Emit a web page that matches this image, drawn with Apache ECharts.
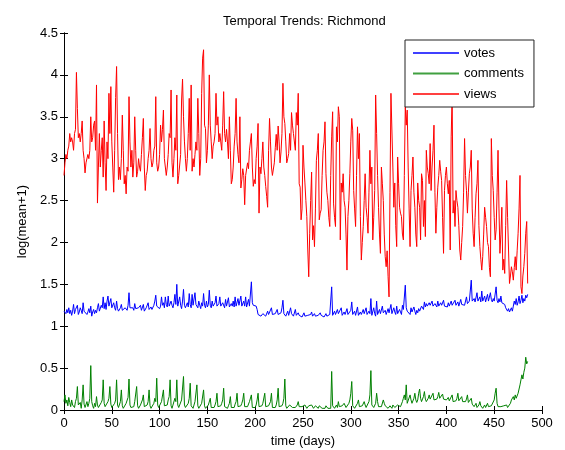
<!DOCTYPE html>
<html>
<head>
<meta charset="utf-8">
<script src="https://cdn.jsdelivr.net/npm/echarts@6/dist/echarts.min.js"></script>
<style>
  html, body { margin: 0; padding: 0; background: #fff; }
  #chart { width: 565px; height: 450px; }
</style>
</head>
<body>
<div id="chart"></div>
<script>
// daily values, day 0 .. 485
const VIEWS = [
  2.80, 2.95, 3.05, 3.00, 3.10, 3.15, 3.30, 3.20, 3.25, 3.20,
  3.10, 3.30, 3.35, 4.03, 3.60, 3.25, 3.30, 3.20, 3.30, 3.45,
  3.10, 3.00, 2.83, 2.95, 2.95, 3.05, 3.00, 3.10, 3.50, 3.20,
  3.25, 3.40, 3.45, 3.10, 3.88, 2.47, 2.90, 3.30, 2.90, 3.10,
  3.25, 2.78, 3.45, 2.95, 2.62, 3.20, 3.00, 3.78, 3.30, 3.86,
  3.20, 2.90, 2.60, 3.10, 3.73, 4.10, 3.30, 2.75, 2.90, 2.75,
  3.00, 3.52, 3.10, 2.70, 2.80, 2.58, 2.90, 2.85, 3.74, 3.20,
  2.90, 3.10, 2.78, 2.95, 3.50, 3.10, 2.78, 2.85, 3.00, 2.90,
  2.85, 3.05, 3.25, 3.48, 2.90, 2.62, 2.80, 2.85, 3.00, 3.10,
  3.36, 3.00, 2.90, 2.95, 3.10, 3.15, 3.74, 2.95, 2.85, 2.90,
  3.05, 3.40, 3.20, 3.35, 3.58, 3.00, 3.00, 2.80, 2.90, 3.05,
  3.30, 3.25, 3.82, 2.95, 2.78, 3.00, 3.25, 3.10, 3.76, 2.70,
  2.80, 2.78, 3.05, 3.70, 3.95, 3.50, 3.20, 3.00, 2.85, 3.00,
  3.30, 3.72, 3.10, 3.88, 2.85, 3.00, 2.90, 3.05, 3.20, 3.10,
  3.72, 3.30, 2.80, 3.00, 3.78, 4.20, 4.30, 3.40, 3.36, 2.95,
  3.10, 3.40, 4.00, 3.40, 3.20, 3.00, 3.15, 3.20, 3.30, 3.78,
  3.40, 3.50, 3.20, 3.30, 3.20, 3.10, 3.40, 3.80, 3.30, 3.20,
  3.35, 3.20, 3.00, 3.50, 3.10, 2.70, 2.75, 2.90, 3.15, 3.30,
  3.72, 3.20, 3.05, 2.95, 3.50, 2.65, 2.75, 2.88, 2.80, 2.45,
  2.80, 2.78, 2.95, 2.88, 3.10, 3.20, 3.30, 2.90, 2.67, 2.75,
  2.70, 3.00, 3.15, 3.42, 2.35, 2.90, 2.82, 3.00, 3.20, 2.90,
  2.80, 2.67, 2.55, 2.42, 3.10, 3.48, 3.20, 2.90, 2.80, 2.78,
  2.95, 3.13, 3.29, 3.10, 3.39, 3.20, 2.95, 3.08, 3.30, 3.90,
  3.50, 3.42, 3.20, 2.95, 3.00, 3.06, 3.30, 3.10, 3.55, 3.40,
  3.30, 3.30, 3.10, 3.55, 3.40, 3.78, 2.70, 2.66, 2.27, 2.40,
  3.16, 2.90, 2.71, 2.50, 2.31, 1.91, 1.59, 2.11, 2.50, 2.84,
  2.03, 2.20, 1.95, 2.40, 2.98, 3.10, 3.30, 2.27, 2.35, 2.39,
  2.80, 3.10, 3.20, 3.44, 2.82, 2.60, 2.50, 2.30, 2.19, 2.80,
  3.26, 3.56, 2.46, 2.30, 2.19, 3.38, 3.20, 3.62, 3.50, 2.03,
  2.71, 2.60, 2.82, 2.50, 2.42, 2.10, 1.67, 2.31, 2.50, 2.82,
  3.20, 3.48, 3.34, 2.62, 2.40, 2.19, 2.80, 3.38, 3.00, 3.30,
  2.31, 1.79, 2.00, 2.19, 2.50, 2.82, 2.42, 2.30, 2.11, 2.60,
  3.10, 2.70, 2.90, 2.03, 2.30, 2.62, 3.76, 3.30, 2.80, 2.42,
  2.10, 1.87, 2.90, 2.70, 2.50, 2.10, 1.83, 1.71, 1.90, 1.59,
  1.35, 2.60, 3.78, 3.80, 2.90, 2.42, 2.71, 2.20, 1.95, 3.02,
  2.70, 2.42, 2.35, 2.31, 2.10, 2.03, 2.80, 3.62, 3.40, 3.58,
  2.90, 2.40, 1.95, 2.62, 2.80, 3.02, 2.60, 2.42, 2.10, 1.95,
  2.71, 2.50, 2.42, 2.03, 2.82, 2.74, 2.19, 2.50, 2.07, 3.10,
  2.90, 2.82, 2.70, 3.18, 2.62, 2.90, 3.10, 3.40, 2.60, 2.11,
  2.42, 2.66, 2.80, 2.98, 2.85, 2.74, 2.30, 1.87, 2.62, 2.80,
  2.90, 2.70, 2.58, 2.74, 1.91, 3.26, 3.75, 2.35, 2.50, 2.19,
  2.62, 2.50, 2.42, 2.20, 1.91, 1.79, 2.00, 2.19, 2.60, 3.24,
  2.80, 2.62, 2.35, 2.60, 2.82, 2.90, 3.10, 2.40, 2.11, 1.95,
  2.30, 2.58, 2.70, 2.98, 2.20, 1.95, 1.80, 1.67, 1.83, 2.10,
  2.42, 2.30, 2.19, 2.00, 1.95, 1.70, 1.59, 3.24, 2.80, 2.62,
  2.30, 2.03, 2.15, 2.60, 3.10, 2.40, 1.87, 2.10, 2.42, 1.67,
  1.80, 1.63, 2.20, 2.74, 2.30, 1.91, 1.51, 1.60, 1.71, 1.65,
  1.55, 1.70, 1.83, 1.67, 1.90, 2.11, 2.40, 2.80, 1.47, 1.39,
  1.60, 1.71, 1.87, 2.11, 2.25, 1.51
]

const VOTES = [
  1.18, 1.17, 1.15, 1.20, 1.16, 1.22, 1.15, 1.19, 1.13, 1.18,
  1.26, 1.15, 1.20, 1.18, 1.25, 1.14, 1.17, 1.22, 1.19, 1.15,
  1.28, 1.18, 1.16, 1.20, 1.14, 1.17, 1.21, 1.16, 1.24, 1.12,
  1.17, 1.20, 1.15, 1.19, 1.16, 1.22, 1.27, 1.18, 1.20, 1.25,
  1.22, 1.35, 1.21, 1.28, 1.20, 1.30, 1.36, 1.24, 1.22, 1.33,
  1.22, 1.20, 1.28, 1.22, 1.19, 1.30, 1.21, 1.18, 1.20, 1.22,
  1.26, 1.19, 1.20, 1.18, 1.22, 1.20, 1.19, 1.25, 1.40, 1.22,
  1.20, 1.24, 1.22, 1.19, 1.27, 1.21, 1.20, 1.23, 1.22, 1.20,
  1.25, 1.19, 1.21, 1.26, 1.18, 1.20, 1.22, 1.21, 1.28, 1.20,
  1.19, 1.23, 1.20, 1.21, 1.25, 1.30, 1.37, 1.24, 1.22, 1.26,
  1.21, 1.24, 1.35, 1.25, 1.28, 1.22, 1.35, 1.26, 1.23, 1.36,
  1.24, 1.22, 1.30, 1.25, 1.22, 1.28, 1.38, 1.26, 1.50, 1.24,
  1.22, 1.35, 1.25, 1.21, 1.30, 1.44, 1.25, 1.22, 1.24, 1.28,
  1.23, 1.39, 1.26, 1.22, 1.38, 1.25, 1.23, 1.40, 1.26, 1.24,
  1.22, 1.30, 1.25, 1.21, 1.28, 1.24, 1.39, 1.25, 1.22, 1.30,
  1.23, 1.26, 1.43, 1.25, 1.22, 1.30, 1.24, 1.23, 1.28, 1.36,
  1.24, 1.22, 1.27, 1.35, 1.24, 1.23, 1.28, 1.26, 1.22, 1.32,
  1.24, 1.25, 1.34, 1.23, 1.22, 1.27, 1.24, 1.30, 1.23, 1.35,
  1.24, 1.22, 1.33, 1.25, 1.23, 1.36, 1.24, 1.22, 1.30, 1.24,
  1.35, 1.23, 1.25, 1.32, 1.24, 1.26, 1.53, 1.28, 1.25, 1.27,
  1.25, 1.24, 1.20, 1.14, 1.13, 1.14, 1.12, 1.13, 1.15, 1.13,
  1.14, 1.12, 1.13, 1.18, 1.14, 1.12, 1.13, 1.22, 1.14, 1.13,
  1.12, 1.15, 1.13, 1.20, 1.14, 1.12, 1.13, 1.16, 1.22, 1.31,
  1.15, 1.13, 1.12, 1.14, 1.18, 1.13, 1.12, 1.22, 1.15, 1.13,
  1.12, 1.14, 1.20, 1.13, 1.12, 1.16, 1.13, 1.12, 1.14, 1.11,
  1.13, 1.16, 1.12, 1.14, 1.11, 1.13, 1.15, 1.12, 1.14, 1.17,
  1.12, 1.13, 1.15, 1.12, 1.14, 1.11, 1.13, 1.12, 1.16, 1.13,
  1.12, 1.14, 1.11, 1.13, 1.15, 1.12, 1.13, 1.11, 1.14, 1.12,
  1.47, 1.13, 1.12, 1.18, 1.14, 1.12, 1.20, 1.15, 1.13, 1.14,
  1.22, 1.13, 1.12, 1.17, 1.14, 1.12, 1.21, 1.14, 1.13, 1.16,
  1.19, 1.29, 1.14, 1.12, 1.18, 1.13, 1.15, 1.23, 1.13, 1.12,
  1.17, 1.14, 1.12, 1.20, 1.15, 1.13, 1.22, 1.14, 1.12, 1.18,
  1.15, 1.33, 1.13, 1.14, 1.22, 1.15, 1.12, 1.30, 1.14, 1.13,
  1.20, 1.15, 1.13, 1.24, 1.16, 1.14, 1.19, 1.14, 1.13, 1.21,
  1.16, 1.14, 1.26, 1.15, 1.13, 1.22, 1.17, 1.14, 1.24, 1.15,
  1.13, 1.20, 1.17, 1.14, 1.25, 1.20, 1.18, 1.49, 1.22, 1.18,
  1.20, 1.16, 1.14, 1.22, 1.17, 1.15, 1.23, 1.18, 1.14, 1.19,
  1.16, 1.21, 1.18, 1.17, 1.24, 1.22, 1.20, 1.29, 1.23, 1.27,
  1.24, 1.22, 1.28, 1.25, 1.23, 1.30, 1.24, 1.22, 1.27, 1.25,
  1.23, 1.30, 1.24, 1.22, 1.28, 1.25, 1.23, 1.31, 1.24, 1.22,
  1.25, 1.23, 1.28, 1.24, 1.22, 1.30, 1.25, 1.23, 1.27, 1.31,
  1.25, 1.23, 1.29, 1.24, 1.22, 1.32, 1.26, 1.24, 1.28, 1.25,
  1.23, 1.35, 1.27, 1.25, 1.30, 1.28, 1.55, 1.30, 1.28, 1.33,
  1.29, 1.27, 1.40, 1.30, 1.28, 1.35, 1.29, 1.42, 1.30, 1.28,
  1.36, 1.29, 1.31, 1.38, 1.30, 1.28, 1.40, 1.32, 1.29, 1.33,
  1.30, 1.28, 1.47, 1.31, 1.28, 1.33, 1.29, 1.36, 1.28, 1.30,
  1.27, 1.26, 1.22, 1.20, 1.18, 1.21, 1.17, 1.19, 1.22, 1.18,
  1.24, 1.30, 1.26, 1.33, 1.25, 1.29, 1.36, 1.27, 1.31, 1.37,
  1.28, 1.33, 1.30, 1.37, 1.34, 1.38
]

const COMMENTS = [
  0.10, 0.18, 0.08, 0.12, 0.05, 0.15, 0.09, 0.04, 0.12, 0.06,
  0.08, 0.03, 0.10, 0.14, 0.28, 0.06, 0.04, 0.09, 0.02, 0.12,
  0.30, 0.07, 0.03, 0.05, 0.10, 0.04, 0.08, 0.14, 0.53, 0.10,
  0.05, 0.02, 0.08, 0.04, 0.16, 0.06, 0.03, 0.05, 0.02, 0.09,
  0.12, 0.36, 0.08, 0.04, 0.06, 0.02, 0.10, 0.14, 0.28, 0.07,
  0.03, 0.05, 0.02, 0.08, 0.12, 0.36, 0.06, 0.03, 0.04, 0.10,
  0.24, 0.05, 0.02, 0.04, 0.03, 0.08, 0.10, 0.15, 0.37, 0.06,
  0.03, 0.05, 0.02, 0.04, 0.10, 0.12, 0.28, 0.05, 0.02, 0.03,
  0.06, 0.08, 0.12, 0.18, 0.04, 0.02, 0.03, 0.06, 0.10, 0.24,
  0.05, 0.02, 0.04, 0.03, 0.08, 0.14, 0.10, 0.38, 0.06, 0.03,
  0.05, 0.02, 0.10, 0.08, 0.24, 0.05, 0.03, 0.04, 0.06, 0.12,
  0.16, 0.36, 0.05, 0.02, 0.04, 0.03, 0.14, 0.10, 0.36, 0.06,
  0.03, 0.05, 0.02, 0.12, 0.10, 0.40, 0.06, 0.03, 0.04, 0.02,
  0.08, 0.14, 0.32, 0.05, 0.03, 0.02, 0.04, 0.10, 0.12, 0.30,
  0.05, 0.02, 0.04, 0.03, 0.08, 0.10, 0.24, 0.05, 0.02, 0.03,
  0.04, 0.06, 0.08, 0.14, 0.03, 0.02, 0.04, 0.03, 0.06, 0.10,
  0.20, 0.04, 0.02, 0.03, 0.05, 0.08, 0.12, 0.26, 0.04, 0.02,
  0.03, 0.02, 0.05, 0.08, 0.16, 0.03, 0.02, 0.04, 0.03, 0.07,
  0.10, 0.20, 0.04, 0.02, 0.03, 0.05, 0.08, 0.12, 0.20, 0.04,
  0.02, 0.03, 0.04, 0.06, 0.10, 0.08, 0.18, 0.03, 0.02, 0.04,
  0.03, 0.06, 0.12, 0.20, 0.04, 0.02, 0.03, 0.05, 0.08, 0.10,
  0.20, 0.04, 0.02, 0.03, 0.05, 0.06, 0.10, 0.20, 0.03, 0.02,
  0.04, 0.03, 0.06, 0.12, 0.26, 0.04, 0.02, 0.03, 0.05, 0.08,
  0.14, 0.37, 0.05, 0.02, 0.03, 0.04, 0.06, 0.05, 0.08, 0.03,
  0.02, 0.04, 0.03, 0.05, 0.06, 0.10, 0.04, 0.02, 0.03, 0.04,
  0.05, 0.03, 0.06, 0.04, 0.02, 0.03, 0.05, 0.04, 0.03, 0.06,
  0.04, 0.02, 0.03, 0.05, 0.04, 0.03, 0.02, 0.05, 0.04, 0.03,
  0.02, 0.04, 0.03, 0.02, 0.05, 0.03, 0.02, 0.04, 0.03, 0.02,
  0.46, 0.05, 0.03, 0.02, 0.04, 0.06, 0.03, 0.10, 0.04, 0.02,
  0.03, 0.05, 0.04, 0.08, 0.06, 0.03, 0.02, 0.05, 0.08, 0.12,
  0.20, 0.34, 0.05, 0.03, 0.02, 0.04, 0.03, 0.08, 0.12, 0.04,
  0.02, 0.03, 0.05, 0.04, 0.10, 0.06, 0.03, 0.02, 0.05, 0.10,
  0.18, 0.47, 0.06, 0.04, 0.03, 0.05, 0.08, 0.20, 0.10, 0.04,
  0.03, 0.05, 0.04, 0.06, 0.12, 0.08, 0.05, 0.03, 0.04, 0.02,
  0.03, 0.05, 0.04, 0.02, 0.06, 0.04, 0.03, 0.05, 0.04, 0.06,
  0.05, 0.08, 0.04, 0.06, 0.10, 0.14, 0.18, 0.12, 0.30, 0.08,
  0.06, 0.10, 0.18, 0.12, 0.08, 0.10, 0.14, 0.20, 0.12, 0.09,
  0.12, 0.20, 0.25, 0.14, 0.10, 0.12, 0.16, 0.22, 0.13, 0.10,
  0.12, 0.14, 0.18, 0.13, 0.11, 0.15, 0.20, 0.12, 0.14, 0.11,
  0.13, 0.16, 0.21, 0.14, 0.12, 0.15, 0.19, 0.13, 0.11, 0.14,
  0.12, 0.10, 0.15, 0.11, 0.09, 0.13, 0.18, 0.10, 0.12, 0.09,
  0.11, 0.14, 0.20, 0.11, 0.09, 0.12, 0.16, 0.10, 0.08, 0.12,
  0.10, 0.13, 0.18, 0.09, 0.08, 0.11, 0.14, 0.07, 0.06, 0.04,
  0.05, 0.08, 0.03, 0.04, 0.06, 0.10, 0.05, 0.03, 0.02, 0.04,
  0.06, 0.03, 0.05, 0.08, 0.04, 0.02, 0.03, 0.05, 0.04, 0.06,
  0.12, 0.20, 0.26, 0.08, 0.04, 0.03, 0.05, 0.04, 0.02, 0.03,
  0.05, 0.03, 0.04, 0.06, 0.03, 0.05, 0.04, 0.08, 0.12, 0.10,
  0.16, 0.12, 0.18, 0.14, 0.16, 0.20, 0.18, 0.30, 0.36, 0.42,
  0.37, 0.45, 0.50, 0.63, 0.55, 0.58
]

const SERIES_NAMES = ['votes', 'comments', 'views']
const COLORS = ['#0000ff', '#008000', '#ff0000']
const FONT = 'Liberation Sans'

const chart = echarts.init(document.getElementById('chart'))

// [day, value] pairs, day = index
const toPairs = arr => arr.map((v, i) => [i, v])

const sideAxis = {
  axisLine: { lineStyle: { color: '#000', width: 1 } },
  axisTick: { inside: true, length: 4, lineStyle: { color: '#000' } },
  splitLine: { show: false },
}

chart.setOption({
  animation: false,
  backgroundColor: '#fff',
  title: {
    text: 'Temporal Trends: Richmond',
    left: 218,
    top: 10,
    textStyle: { fontFamily: FONT, fontSize: 13, fontWeight: 'normal', color: '#000' },
  },
  legend: {
    data: SERIES_NAMES,
    orient: 'vertical',
    left: 405,
    top: 40,
    icon: 'rect',
    backgroundColor: '#fff',
    borderColor: '#222',
    borderWidth: 1,
    borderRadius: 0,
    padding: [6, 10, 6, 8],
    itemWidth: 46,
    itemHeight: 2,
    itemGap: 6.5,
    itemTextGap: 4,
    itemStyle: { opacity: 0.75 },
    textStyle: { fontFamily: FONT, fontSize: 13, lineHeight: 14, color: '#000' },
  },
  grid: { left: 64, top: 33, right: 23, bottom: 40, outerBoundsMode: 'none' },
  xAxis: [
    {
      ...sideAxis,
      type: 'value', min: 0, max: 500, interval: 50,
      name: 'time (days)', nameLocation: 'middle', nameGap: 25,
      nameTextStyle: { fontFamily: FONT, fontSize: 13, color: '#000' },
      axisLabel: { fontFamily: FONT, fontSize: 13, color: '#000', margin: 7 },
    },
    {
      ...sideAxis,
      type: 'value', min: 0, max: 500, interval: 50, position: 'top',
      axisLabel: { show: false },
    },
  ],
  yAxis: [
    {
      ...sideAxis,
      type: 'value', min: 0, max: 4.5, interval: 0.5,
      name: 'log(mean+1)', nameLocation: 'middle', nameGap: 31,
      nameTextStyle: { fontFamily: FONT, fontSize: 13, color: '#000' },
      axisLabel: { fontFamily: FONT, fontSize: 13, color: '#000', margin: 6 },
    },
    {
      ...sideAxis,
      type: 'value', min: 0, max: 4.5, interval: 0.5, position: 'right',
      axisLabel: { show: false },
    },
  ],
  series: [VOTES, COMMENTS, VIEWS].map((arr, i) => ({
    name: SERIES_NAMES[i],
    type: 'line',
    data: toPairs(arr),
    symbol: 'none',
    showSymbol: false,
    lineStyle: { color: COLORS[i], width: 1 },
    itemStyle: { color: COLORS[i] },
  })),
})
</script>
</body>
</html>
